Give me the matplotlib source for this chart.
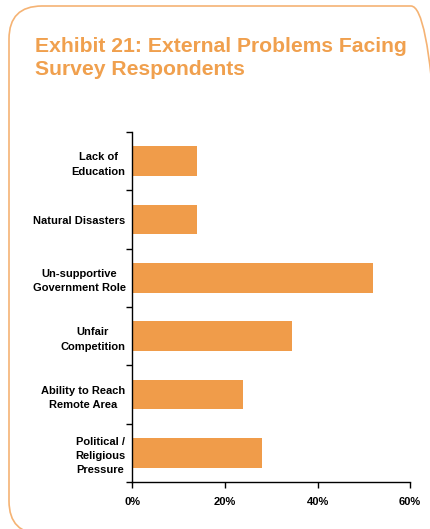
import numpy as np
import matplotlib.pyplot as plt
from matplotlib.patches import FancyBboxPatch
from matplotlib.ticker import FuncFormatter

plt.rcParams['font.family'] = ['Liberation Sans', 'DejaVu Sans']

categories = ['Lack of\nEducation', 'Natural Disasters', 'Un-supportive\nGovernment Role',
              'Unfair\nCompetition', 'Ability to Reach\nRemote Area', 'Political /\nReligious\nPressure']
values = [14, 14, 52, 34.5, 24, 28]
x_ticks = [0, 20, 40, 60]

orange = '#f09c4a'

fig = plt.figure(figsize=(4.31, 5.29), dpi=100)

# rounded frame around the exhibit (runs off the right and bottom edges)
frame = FancyBboxPatch((9, -5), 435, 528, boxstyle='round,pad=0,rounding_size=33',
                       transform=None, fill=False, edgecolor='#f5b374', linewidth=1.2)
fig.patches.append(frame)

fig.text(35 / 431, 1 - 37 / 529, 'Exhibit 21: External Problems Facing\nSurvey Respondents',
         color='#f0a04e', fontsize=15.2, fontweight='bold', va='top', ha='left', linespacing=1.27)

ax = fig.add_axes([0.3074, 0.0888, 0.6439, 0.6616])
y = np.arange(len(categories))
ax.barh(y, values, height=0.51, color=orange)
ax.set_ylim(len(categories) - 0.5, -0.5)
ax.set_xlim(0, 60)

ax.set_yticks(np.arange(len(categories) + 1) - 0.5)
ax.set_yticklabels([])
ax.set_yticks(y, minor=True)
ax.set_yticklabels(categories, minor=True, fontsize=8, fontweight='bold',
                   multialignment='center', linespacing=1.55)
ax.tick_params(axis='y', which='minor', length=0, pad=5)
ax.tick_params(axis='y', which='major', length=4, width=1)

ax.set_xticks(x_ticks)
ax.xaxis.set_major_formatter(FuncFormatter(lambda v, p: f'{v:.0f}%'))
ax.tick_params(axis='x', length=4, width=1, labelsize=8, pad=7)
for lab in ax.get_xticklabels():
    lab.set_fontweight('bold')

for s in ['top', 'right']:
    ax.spines[s].set_visible(False)
ax.spines['left'].set_linewidth(1)
ax.spines['bottom'].set_linewidth(1)

fig.savefig('out.png', dpi=100)
